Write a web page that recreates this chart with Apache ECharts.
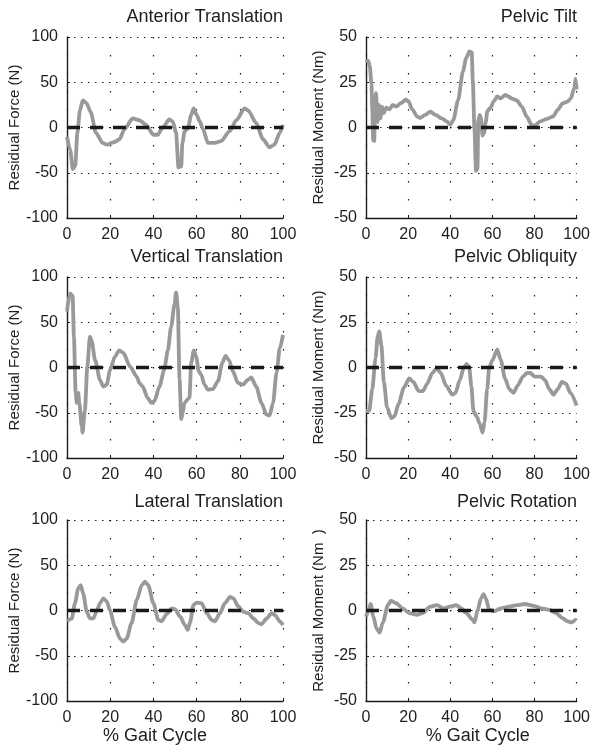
<!DOCTYPE html>
<html>
<head>
<meta charset="utf-8">
<script src="https://cdn.jsdelivr.net/npm/echarts@6/dist/echarts.min.js"></script>
<style>
  html, body { margin: 0; padding: 0; background: #fff; }
  #chart { width: 593px; height: 746px; }
</style>
</head>
<body>
<div id="chart"></div>
<script>
// panel titles, left column = forces, right column = moments
const panelTitles = ['Anterior Translation', 'Pelvic Tilt', 'Vertical Translation', 'Pelvic Obliquity', 'Lateral Translation', 'Pelvic Rotation'];
const yNames = ['Residual Force (N)', 'Residual Moment (Nm)', 'Residual Force (N)', 'Residual Moment (Nm)', 'Residual Force (N)', 'Residual Moment (Nm  )'];
const xName = '% Gait Cycle';
const forceTicks = [-100, -50, 0, 50, 100];
const momentTicks = [-50, -25, 0, 25, 50];
const gaitTicks = [0, 20, 40, 60, 80, 100];

// [% gait cycle, residual]
const anteriorTranslation = [
  [0, -10], [1.5, -25], [2.7, -46], [3.8, -42], [4.8, -6], [6, 19], [7.3, 30], [9, 27], [11, 17],
  [13.4, -6], [16.5, -17], [18.5, -19], [22, -16], [24.3, -13], [26.6, -2], [30.4, 10], [33.5, 8],
  [36.6, 3], [40, -8], [42, -8], [44, -1], [47.4, 9], [49, 6.5], [50.5, -6], [51.6, -44], [52.9, -43],
  [53.4, -17], [54.5, -4], [56, -1], [57.5, 14], [58.6, 21], [60, 14], [61.4, 7], [63, -2], [65.2, -17],
  [68.3, -17], [71.4, -15], [75.3, -4], [78.4, 8], [82.2, 21], [83.8, 19], [87.6, 5], [90.7, -13],
  [93.8, -22], [96, -19], [98.5, -6], [100, 3]
];
const pelvicTilt = [
  [0, 36], [1, 37], [1.8, 34], [2.6, 24], [3, 10], [3.4, -7], [3.9, -7.5], [4.3, 8], [4.7, 19], [5.2, 12],
  [5.5, 3], [6.1, 12.5], [6.8, 5], [7.6, 11.5], [8.4, 8], [9.6, 11], [11.2, 10], [12.7, 12.5], [14.3, 11.5],
  [16.6, 13.5], [18.9, 15.4], [20.1, 14.5], [22, 10], [24.3, 6], [25.8, 5.3], [28.1, 7], [30.5, 8.8],
  [33, 7], [36, 5], [38.5, 3.3], [40, 1.5], [41.4, 4], [43.7, 15], [46, 31], [47.6, 38.5], [49.1, 42],
  [50.2, 41.5], [50.7, 26], [51.5, -1], [52.2, -24], [52.9, -23], [53.3, 4], [54, 7], [54.6, 5],
  [55.3, -4.5], [56.1, -3], [56.8, 2.7], [57.6, 9], [59.1, 11], [60.7, 14.5], [62.3, 17.2], [63.8, 16],
  [66.2, 18], [67.7, 17], [69.3, 16], [71.6, 15], [74, 11.5], [76.3, 6], [78.6, 1.5], [80.2, 1],
  [82.5, 3.3], [85.6, 4.6], [88.7, 6], [91, 9.7], [93.3, 13.3], [95.7, 14.3], [97.2, 16], [98.8, 21.6],
  [99.5, 27], [100, 21]
];
const verticalTranslation = [
  [0, 62], [1.4, 82], [2.6, 79], [3.2, 34], [4, -28], [4.5, -39], [5.2, -28], [5.7, -39], [6.8, -65],
  [7.2, -72], [8.3, -47], [9.4, 1], [10.6, 34], [11.4, 30], [13, 8], [15.3, -14], [16.8, -21], [18.4, -19],
  [19.9, -3], [22.2, 12], [24.2, 19], [26.1, 16], [29.2, 1], [32.3, -10], [33.5, -17], [35, -21],
  [37.4, -34], [39, -39], [40.5, -37], [42.8, -21], [45, -2.6], [46.7, 19], [48.2, 45], [49.8, 70],
  [50.5, 83], [51.3, 67], [52.1, -13], [52.9, -57], [53.6, -50], [54.4, -39], [56, -35], [56.7, -33],
  [57.5, 5], [58.7, 19], [59.8, 12], [61, -4], [62.1, -8], [63.7, -19], [65.2, -24.5], [67.5, -24],
  [69.9, -15], [71.9, 5], [73.4, 12.8], [75, 8], [76.8, -4], [79.1, -17], [81.5, -19], [83.8, -13.5],
  [85.3, -11], [87.6, -21], [90, -39], [92.3, -52], [93.8, -53], [95.4, -39], [97, -6], [98.5, 21], [100, 36]
];
const pelvicObliquity = [
  [0, -24], [1.5, -24], [3, -12], [4.5, 5], [5.5, 17], [6.3, 20], [7.3, 12], [8.5, -8], [10, -22],
  [12, -28], [13.5, -27], [15.5, -20], [18, -11], [20.5, -6], [22.5, -8], [25, -13], [27, -13], [29, -9],
  [31.5, -3], [33.5, -0.5], [35.5, -3], [38, -10], [41, -15], [42.5, -14], [44.5, -7], [46.5, 0],
  [47.8, 2], [49, 0], [50, -10], [51, -24], [52.5, -27], [54, -31], [55.3, -36], [56.3, -30], [57.5, -12],
  [58.5, 0], [60, 4], [62.3, 10], [64, 4], [66, -6], [68, -12], [70, -14], [72, -10], [74.5, -5],
  [76.5, -3], [78, -3], [80, -5], [83, -5], [85, -7], [87, -12], [89, -15], [91, -12], [93, -8],
  [95, -9], [97, -14], [100, -21]
];
const lateralTranslation = [
  [0, -12], [2.2, -9], [3.7, 8], [5.2, 24.5], [6.3, 28], [7.5, 19], [9.1, -1], [10.6, -8.7], [12.2, -8.7],
  [13.7, -1], [15.3, 8], [16.8, 13.5], [18.4, 10], [19.9, 0], [22.2, -18], [24.5, -31], [26.1, -34.5],
  [27.6, -31], [29.9, -14], [32.3, 11.6], [34.6, 28], [36.1, 32], [37.6, 28], [40, 8], [42.3, -10.5],
  [43.8, -12], [46.1, -4], [48.5, 2.4], [50, 1.5], [52.3, -6.5], [54.6, -16], [55.9, -21.5], [57, -13],
  [58.5, 6], [60, 8.7], [62.3, 8], [64.7, -3], [67, -10.5], [68.5, -12], [70.8, -3], [73.1, 8],
  [75.5, 15], [77, 13.5], [79.3, 4.5], [81.6, -1.3], [83.9, -3], [86.3, -8.7], [88.6, -14], [90.1, -15],
  [92.4, -8.7], [94.8, -3], [96.3, -5], [98.6, -12.3], [100, -16]
];
const pelvicRotation = [
  [0, -3.4], [1.1, -0.5], [2.2, 3.6], [3.5, -3.4], [5, -9.9], [6.5, -12.2], [8, -6.6], [10.4, 3],
  [11.9, 5.4], [14.3, 4], [17.4, 1.2], [20.5, -1.5], [24.3, -2.4], [26.7, -1.5], [30.5, 2.1], [33.6, 3],
  [36.7, 1.2], [39.9, 2.1], [42.9, 3], [45.3, 1.2], [47.6, -1.5], [50.7, -5.2], [51.5, -6.6], [53, 0.4],
  [54.6, 6.7], [55.8, 9.1], [56.9, 6.7], [58.5, 0.4], [60.8, -0.5], [63.9, 1.2], [67.8, 2.1], [71.6, 3],
  [75.5, 3.6], [79.4, 2.6], [83.3, 1.2], [87.1, 0.4], [90.2, -1.5], [93.3, -4.2], [95.7, -6], [97.7, -6.6],
  [99.5, -5.2], [100, -5.5]
];
const zeroLine = [[0, 0], [100, 0]];

const panelData = [anteriorTranslation, pelvicTilt, verticalTranslation, pelvicObliquity, lateralTranslation, pelvicRotation];

const font = "'Liberation Sans', Arial, sans-serif";
const ink = '#1e1e1e';
const colLeft = [67, 366];
const colWidth = [216, 215];
const rowTop = [37, 277, 520];
const rowHeight = 181;
const titleTop = [8, 248, 493];
const titleRight = [310, 16];
const yNameGap = [42, 40];
const xNamePad = [[0, 40, 0, 0], [0, 0, 0, 13]];

const chart = echarts.init(document.getElementById('chart'));

const grid = [], xAxis = [], yAxis = [], title = [], series = [];
for (let i = 0; i < 6; i++) {
  const col = i % 2, row = Math.floor(i / 2);
  const ticks = col === 0 ? forceTicks : momentTicks;
  grid.push({ left: colLeft[col], top: rowTop[row], width: colWidth[col], height: rowHeight });
  title.push({
    text: panelTitles[i], right: titleRight[col], top: titleTop[row], padding: 0,
    textStyle: { fontFamily: font, fontSize: 18, fontWeight: 'normal', color: ink }
  });
  xAxis.push({
    type: 'value', gridIndex: i, min: gaitTicks[0], max: gaitTicks[gaitTicks.length - 1],
    interval: gaitTicks[1] - gaitTicks[0],
    name: row === 2 ? xName : '', nameLocation: 'middle', nameGap: 25,
    nameTextStyle: { fontFamily: font, fontSize: 18, color: ink, padding: xNamePad[col] },
    axisLine: { onZero: false, lineStyle: { color: ink, width: 1.4 } },
    axisTick: { inside: true, length: 3, lineStyle: { color: ink } },
    axisLabel: { fontFamily: font, fontSize: 16, color: ink, margin: 9 },
    splitLine: { show: true, lineStyle: { color: ink, width: 1.2, type: [1.5, 16.5] } }
  });
  yAxis.push({
    type: 'value', gridIndex: i, min: ticks[0], max: ticks[ticks.length - 1],
    interval: ticks[1] - ticks[0],
    name: yNames[i], nameLocation: 'middle', nameGap: yNameGap[col],
    nameTextStyle: { fontFamily: font, fontSize: 15, color: ink },
    axisLine: { onZero: false, lineStyle: { color: ink, width: 1.4 } },
    axisTick: { inside: true, length: 3, lineStyle: { color: ink } },
    axisLabel: { fontFamily: font, fontSize: 16, color: ink, margin: 9 },
    splitLine: { show: true, lineStyle: { color: ink, width: 1.2, type: [1.5, 5.5] } }
  });
  series.push({
    type: 'line', xAxisIndex: i, yAxisIndex: i, data: panelData[i],
    showSymbol: false, smooth: 0.25, smoothMonotone: 'x',
    lineStyle: { color: '#999999', width: 3.8 }, z: 2, silent: true
  });
  series.push({
    type: 'line', xAxisIndex: i, yAxisIndex: i, data: zeroLine,
    showSymbol: false,
    lineStyle: { color: '#1a1a1a', width: 3.6, type: [13, 10] }, z: 3, silent: true
  });
}

chart.setOption({ animation: false, backgroundColor: '#fff', title, grid, xAxis, yAxis, series });
</script>
</body>
</html>
